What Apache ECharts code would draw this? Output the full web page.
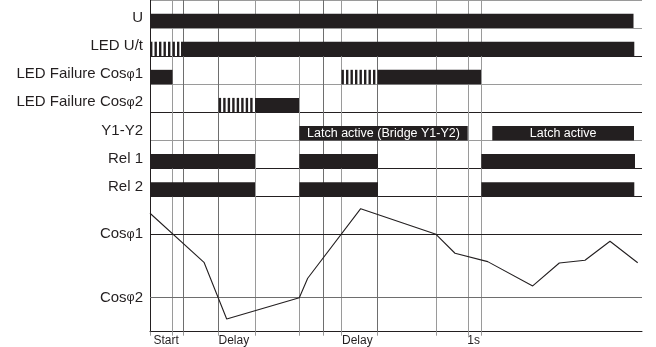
<!DOCTYPE html>
<html><head><meta charset="utf-8">
<script src="https://cdn.jsdelivr.net/npm/echarts@6/dist/echarts.min.js"></script>
<style>html,body{margin:0;padding:0;background:#fff}#c{width:656px;height:347px}</style>
</head><body><div id="c"></div>
<script>
// ---- data ----
const rows = ['U', 'LED U/t', 'LED Failure Cosφ1', 'LED Failure Cosφ2', 'Y1-Y2', 'Rel 1', 'Rel 2'];
const uOn = [[0, 483.5]];
const ledUtBlink = [[0, 31]];
const ledUtOn = [[31, 484.3]];
const ledCos1On = [[0, 22.5], [227.5, 331]];
const ledCos1Blink = [[191.5, 227.5]];
const ledCos2Blink = [[68.7, 105]];
const ledCos2On = [[105, 149]];
const latchOn = [[149.3, 317.7], [342.3, 484]];
const latchText = ['Latch active (Bridge Y1-Y2)', 'Latch active'];
const rel1On = [[0, 105], [149.3, 228], [331.3, 485]];
const rel2On = [[0, 105], [149.3, 228], [331.3, 484.3]];
const eventTimes = [22.7, 33.7, 68.7, 105, 149.3, 173.7, 191.3, 227.5, 286, 318, 331.3];
const eventDark = [false, true, true, false, false, true, false, true, false, false, false];
const cosTimes = [0, 54, 76.7, 149.3, 157.7, 210.7, 286, 305, 337.7, 382.7, 409.3, 435, 460, 487.7];
const cosValues = [87.7, 51.4, 9.4, 25.2, 39.6, 91.1, 72.1, 58.1, 51.9, 33.9, 50.9, 52.9, 67, 51.1];
const cosLevels = [72.1, 25.2];
const cosLevelNames = ['Cosφ1', 'Cosφ2'];
const timeLabels = ['Start', 'Delay', 'Delay', '1s'];
const timeLabelAt = [3.5, 68.5, 192, 317.3];

// ---- build ----
const DARK = '#231f20', GREY = '#9a9a9a', MID = '#6e6e6e';
const FONT = '"Liberation Sans", Arial, sans-serif';
const segs = [];
function add(list, row, kind, texts) {
  list.forEach((s, i) => segs.push([s[0], s[1], row, kind, texts ? i : -1]));
}
add(uOn, 0, 0);
add(ledUtBlink, 1, 1); add(ledUtOn, 1, 0);
add(ledCos1On, 2, 0); add(ledCos1Blink, 2, 1);
add(ledCos2Blink, 3, 1); add(ledCos2On, 3, 0);
add(latchOn, 4, 0, latchText);
add(rel1On, 5, 0);
add(rel2On, 6, 0);

const phi = s => s.replace(/φ/g, '{p|φ}');
const vLines = eventTimes.map((t, i) => ({xAxis: t, lineStyle: {color: eventDark[i] ? MID : GREY}}));
const markV = {silent: true, symbol: 'none', label: {show: false}, lineStyle: {type: 'solid', width: 1}, data: vLines, animation: false};

const chart = echarts.init(document.getElementById('c'), null, {renderer: 'canvas'});
chart.setOption({
  animation: false,
  grid: [
    {left: 150, right: 14, top: -8.63, bottom: 150.33},
    {left: 150, right: 14, top: 196.67, bottom: 15.3}
  ],
  xAxis: [
    {gridIndex: 0, type: 'value', min: 0, max: 492, show: false},
    {gridIndex: 1, type: 'value', min: 0, max: 492,
     axisLine: {show: true, lineStyle: {color: DARK, width: 1}},
     axisTick: {show: true, customValues: [0].concat(eventTimes), length: 4, lineStyle: {color: GREY}},
     splitLine: {show: false},
     axisLabel: {customValues: timeLabelAt, formatter: v => timeLabels[timeLabelAt.indexOf(v)] || '',
       align: 'left', margin: 3, color: DARK, fontSize: 12, fontFamily: FONT}}
  ],
  yAxis: [
    {gridIndex: 0, type: 'category', data: rows, inverse: true,
     axisLine: {show: true, lineStyle: {color: DARK}},
     axisTick: {show: false},
     axisLabel: {interval: 0, margin: 7, color: DARK, fontSize: 15, fontFamily: FONT,
       verticalAlign: 'middle', padding: [8, 0, 0, 0], formatter: v => phi(v),
       rich: {p: {fontSize: 12.5, fontFamily: FONT, color: DARK}}},
     splitLine: {show: true, interval: 0, lineStyle: {color: [GREY, GREY, DARK, GREY, DARK, GREY, DARK, DARK], width: 1}}},
    {gridIndex: 1, type: 'value', min: 0, max: 100,
     axisLine: {show: true, lineStyle: {color: DARK}},
     axisTick: {show: false}, splitLine: {show: false},
     axisLabel: {customValues: cosLevels, formatter: v => phi(cosLevelNames[cosLevels.indexOf(v)] || ''),
       margin: 7, color: DARK, fontSize: 15, fontFamily: FONT,
       rich: {p: {fontSize: 12.5, fontFamily: FONT, color: DARK}}}}
  ],
  series: [
    {type: 'line', xAxisIndex: 0, yAxisIndex: 0, data: [], z: 1, markLine: markV},
    {type: 'custom', xAxisIndex: 0, yAxisIndex: 0, z: 5, data: segs, encode: {x: [0, 1], y: 2},
     renderItem(params, api) {
       const row = api.value(2);
       const p0 = api.coord([api.value(0), row]);
       const p1 = api.coord([api.value(1), row]);
       const band = api.size([0, 1])[1];
       const base = p0[1] + band / 2;
       const h = band * 0.515;
       const x0 = p0[0], x1 = p1[0];
       if (api.value(3) === 1) {
         const ch = [];
         for (let x = x0; x < x1 - 0.8; x += 4.5) {
           ch.push({type: 'rect', shape: {x: x, y: base - h, width: Math.min(2.4, x1 - x), height: h}, style: {fill: DARK}});
         }
         return {type: 'group', children: ch};
       }
       const rect = {type: 'rect', shape: {x: x0, y: base - h, width: x1 - x0, height: h}, style: {fill: DARK}};
       const ti = api.value(4);
       if (ti >= 0) {
         return {type: 'group', children: [rect, {type: 'text', x: (x0 + x1) / 2, y: base - h / 2,
           style: {text: latchText[ti], fill: '#fff', fontSize: 12.5, fontFamily: FONT, align: 'center', verticalAlign: 'middle'}}]};
       }
       return rect;
     }},
    {type: 'line', xAxisIndex: 1, yAxisIndex: 1, z: 5, symbol: 'none',
     data: cosTimes.map((t, i) => [t, cosValues[i]]),
     lineStyle: {color: DARK, width: 1.1},
     markLine: {silent: true, symbol: 'none', label: {show: false}, lineStyle: {type: 'solid', width: 1},
       data: eventTimes.map((t, i) => ({xAxis: t, lineStyle: {color: eventDark[i] ? MID : GREY}}))
         .concat([{yAxis: cosLevels[0], lineStyle: {color: DARK}}, {yAxis: cosLevels[1], lineStyle: {color: MID}}])}}
  ]
});
</script></body></html>
